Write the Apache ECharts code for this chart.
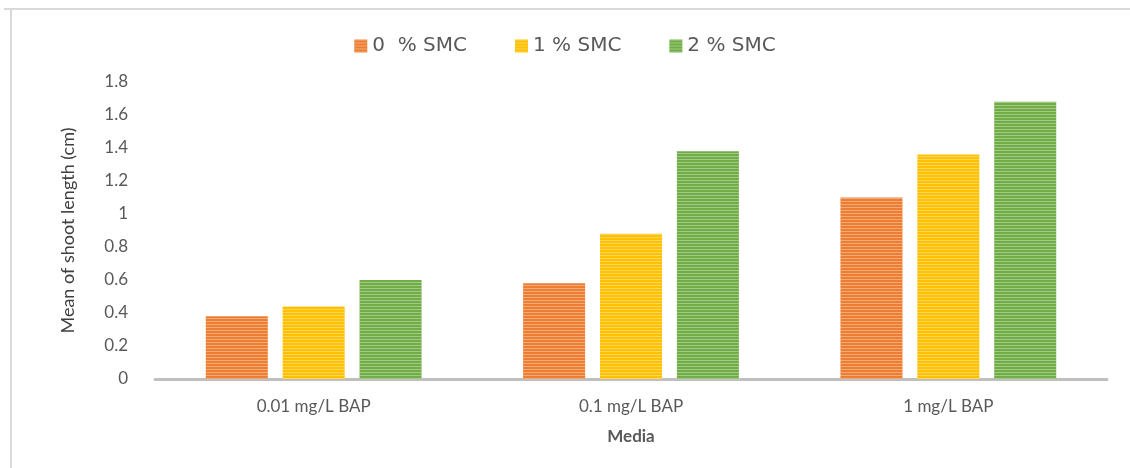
<!DOCTYPE html>
<html>
<head>
<meta charset="utf-8">
<script src="https://cdn.jsdelivr.net/npm/echarts@6/dist/echarts.min.js"></script>
<style>
  html, body { margin: 0; padding: 0; background: #fff; }
  #chart { width: 1130px; height: 468px; }
</style>
</head>
<body>
<div id="chart"></div>
<script>
const categories = ['0.01 mg/L BAP', '0.1 mg/L BAP', '1 mg/L BAP'];
const seriesNames = ['0  % SMC', '1 % SMC', '2 % SMC'];
const smc0 = [0.38, 0.58, 1.10];
const smc1 = [0.44, 0.88, 1.36];
const smc2 = [0.60, 1.38, 1.68];
const colors = ['#ED7D31', '#FFC000', '#70AD47'];

const font = 'Lato, "Open Sans", sans-serif';
const chart = echarts.init(document.getElementById('chart'));

function bar(name, data, color) {
  return {
    name: name,
    type: 'bar',
    data: data,
    barWidth: 62,
    barGap: '24%',
    itemStyle: {
      color: color,
      decal: {
        symbol: 'rect',
        symbolSize: 1,
        dashArrayX: [1, 0],
        dashArrayY: [1, 2],
        rotation: 0,
        color: 'rgba(255,255,255,0.35)'
      }
    }
  };
}

let option = {
  animation: false,
  backgroundColor: '#fff',
  color: colors,
  legend: {
    top: 31,
    left: 'center',
    itemWidth: 13,
    itemHeight: 13,
    itemGap: 48,
    icon: 'rect',
    textStyle: { fontFamily: '"DejaVu Sans", sans-serif', fontSize: 20, color: '#595959' },
    data: seriesNames
  },
  grid: { left: 155, right: 23, top: 82, bottom: 89 },
  xAxis: {
    type: 'category',
    data: categories,
    name: 'Media',
    nameLocation: 'middle',
    nameGap: 49,
    nameTextStyle: { fontFamily: font, fontSize: 17, fontWeight: 'bold', color: '#595959' },
    axisLine: { lineStyle: { color: '#bfbfbf', width: 3 } },
    axisTick: { show: false },
    axisLabel: { fontFamily: font, fontSize: 17, color: '#595959', margin: 19 }
  },
  yAxis: {
    type: 'value',
    min: 0,
    max: 1.8,
    interval: 0.2,
    name: 'Mean of shoot length (cm)',
    nameLocation: 'middle',
    nameGap: 78,
    nameTextStyle: { fontFamily: font, fontSize: 18, color: '#404040' },
    axisLine: { show: false },
    axisTick: { show: false },
    splitLine: { show: false },
    axisLabel: { fontFamily: font, fontSize: 17, color: '#595959', margin: 27 }
  },
  graphic: [
    { type: 'line', shape: { x1: 4, y1: 9, x2: 1130, y2: 9 }, style: { stroke: '#d9d9d9', lineWidth: 2 } },
    { type: 'line', shape: { x1: 11, y1: 9, x2: 11, y2: 468 }, style: { stroke: '#d9d9d9', lineWidth: 2 } }
  ],
  series: [
    bar(seriesNames[0], smc0, colors[0]),
    bar(seriesNames[1], smc1, colors[1]),
    bar(seriesNames[2], smc2, colors[2])
  ]
};
option && chart.setOption(option);
</script>
</body>
</html>
